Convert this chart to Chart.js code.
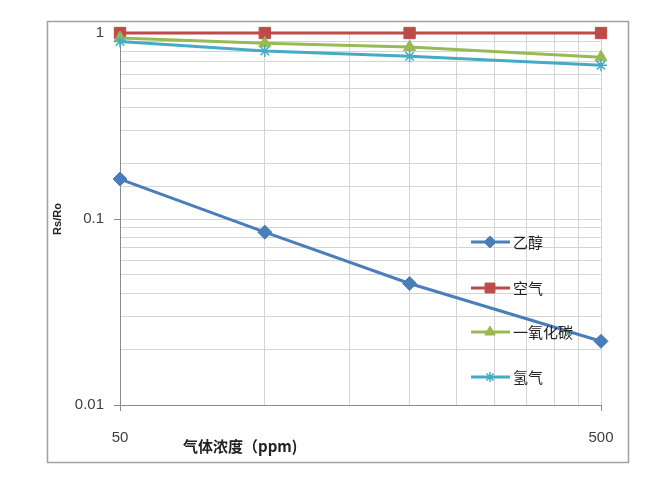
<!DOCTYPE html>
<html lang="zh">
<head>
<meta charset="UTF-8" />
<title>Rs/Ro 气体浓度</title>
<script src="https://cdn.jsdelivr.net/npm/chart.js"></script>
<style>
    body { margin: 0; background: #fff; }
    canvas { display: block; }
</style>
</head>
<body>
<canvas id="chart" width="659" height="489"></canvas>
<script>
    // concentration (ppm) and Rs/Ro readings
    const concentrations = [50, 100, 200, 500];
    const ethanol = [0.164, 0.085, 0.045, 0.022];
    const air = [1, 1, 1, 1];
    const carbonMonoxide = [0.94, 0.88, 0.84, 0.74];
    const hydrogen = [0.9, 0.8, 0.75, 0.67];
    const seriesNames = ["乙醇", "空气", "一氧化碳", "氢气"];
    const xGridValues = [50, 100, 150, 200, 250, 300, 350, 400, 450, 500];
    const xTickLabels = [50, 500];
    const yTickLabels = [0.01, 0.1, 1];

    const font = "'Liberation Sans', 'Noto Sans CJK SC', sans-serif";
    const cjkFont = "'Noto Sans CJK SC', sans-serif";

    function toPoints(values) {
        return concentrations.map((c, i) => ({ x: c, y: values[i] }));
    }

    // grey frame around the whole chart
    const framePlugin = {
        id: "frame",
        beforeDraw(chart) {
            const ctx = chart.ctx;
            ctx.save();
            ctx.strokeStyle = "#a0a0a0";
            ctx.lineWidth = 1.5;
            ctx.strokeRect(47.5, 21.5, 581, 441);
            ctx.restore();
        }
    };

    // legend drawn inside the plot area, like the original
    const insideLegend = {
        id: "insideLegend",
        afterDraw(chart) {
            const ctx = chart.ctx;
            const rows = [242, 288, 332, 377];
            ctx.save();
            chart.data.datasets.forEach((ds, i) => {
                const y = rows[i];
                ctx.strokeStyle = ds.borderColor;
                ctx.lineWidth = 3;
                ctx.beginPath();
                ctx.moveTo(471, y);
                ctx.lineTo(510, y);
                ctx.stroke();
                ctx.fillStyle = ds.backgroundColor;
                ctx.strokeStyle = ds.borderColor;
                ctx.lineWidth = ds.pointStyle === "star" ? 1.5 : 1;
                Chart.helpers.drawPoint(ctx, {
                    pointStyle: ds.pointStyle,
                    radius: ds.pointRadius - 1,
                    rotation: 0,
                    borderWidth: 1
                }, 490, y);
                ctx.fillStyle = "#222";
                ctx.font = "15px " + cjkFont;
                ctx.textAlign = "left";
                ctx.textBaseline = "middle";
                ctx.fillText(ds.label, 513, y);
            });

            // x axis title, placed left of centre as in the original
            ctx.fillStyle = "#222";
            ctx.font = "bold 15px " + cjkFont;
            ctx.textAlign = "left";
            ctx.textBaseline = "middle";
            ctx.fillText("气体浓度（ppm)", 183, 446);
            ctx.restore();
        }
    };

    const colors = ["#4a7ebb", "#be4b48", "#98b954", "#46aac5"];
    const styles = ["rectRot", "rect", "triangle", "star"];
    const radii = [7, 8, 7, 6];
    const allValues = [ethanol, air, carbonMonoxide, hydrogen];

    const datasets = allValues.map((vals, i) => ({
        label: seriesNames[i],
        data: toPoints(vals),
        borderColor: colors[i],
        backgroundColor: colors[i],
        borderWidth: 3,
        pointStyle: styles[i],
        pointRadius: radii[i],
        pointBorderWidth: styles[i] === "star" ? 1.5 : 1,
        clip: false,
        order: 3 - i
    }));

    new Chart(document.getElementById("chart"), {
        type: "line",
        data: { datasets: datasets },
        options: {
            responsive: false,
            animation: false,
            layout: { padding: { left: 47, top: 33, right: 58, bottom: 27 } },
            plugins: {
                legend: { display: false },
                tooltip: { enabled: false }
            },
            scales: {
                x: {
                    type: "logarithmic",
                    min: 50,
                    max: 500,
                    afterBuildTicks(scale) {
                        scale.ticks = xGridValues.map(v => ({ value: v }));
                    },
                    afterFit(scale) { scale.height = 57; },
                    border: { color: "#8c8c8c", width: 1 },
                    grid: {
                        color: "#d4d4d4",
                        lineWidth: 1,
                        tickLength: 6,
                        tickColor: ctx => xTickLabels.includes(ctx.tick && ctx.tick.value) ? "#8c8c8c" : "rgba(0,0,0,0)"
                    },
                    ticks: {
                        autoSkip: false,
                        maxRotation: 0,
                        padding: 18,
                        color: "#404040",
                        font: { family: font, size: 15 },
                        callback: v => xTickLabels.includes(v) ? String(v) : ""
                    }
                },
                y: {
                    type: "logarithmic",
                    min: 0.01,
                    max: 1,
                    afterFit(scale) { scale.width = 73; },
                    border: { color: "#8c8c8c", width: 1 },
                    grid: {
                        color: "#d4d4d4",
                        lineWidth: 1,
                        tickLength: 6,
                        tickColor: ctx => yTickLabels.includes(ctx.tick && ctx.tick.value) ? "#8c8c8c" : "rgba(0,0,0,0)"
                    },
                    ticks: {
                        autoSkip: false,
                        padding: 10,
                        color: "#404040",
                        font: { family: font, size: 15 },
                        callback: v => yTickLabels.includes(v) ? String(v) : ""
                    },
                    title: {
                        display: true,
                        text: "Rs/Ro",
                        color: "#222",
                        font: { family: font, size: 11, weight: "bold" },
                        padding: { top: 4, bottom: 0 }
                    }
                }
            }
        },
        plugins: [framePlugin, insideLegend]
    });
</script>
</body>
</html>
